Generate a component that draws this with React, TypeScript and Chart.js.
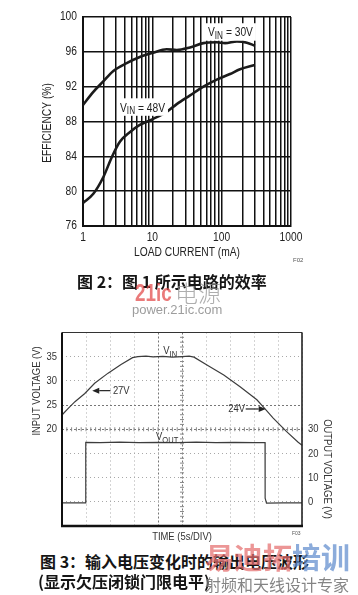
import React, { useEffect, useRef } from "react";
import { Chart, registerables } from "chart.js";

Chart.register(...registerables);

const SANS = '"Liberation Sans", Arial, sans-serif';
const CJK = '"Noto Sans CJK SC", "Noto Sans CJK TC", sans-serif';
const NARROW_SX = 0.82; // horizontal squeeze to imitate a narrow Helvetica

// ---------- Figure 2: efficiency vs load current ----------
const loadCurrent30V = [1, 1.41, 1.96, 2.74, 4.27, 6.6, 10.3, 16.1, 22.5, 34.9, 54.6, 85, 112, 166, 231, 302];
const efficiency30V = [89.9, 91.4, 92.6, 93.8, 94.7, 95.4, 95.9, 96.3, 96.2, 96.5, 97.0, 97.1, 97.0, 97.2, 97.05, 96.7];
const loadCurrent48V = [1, 1.41, 1.96, 2.6, 3.42, 4.78, 6.6, 10.3, 16.1, 22.5, 35, 54.6, 85, 132, 184, 302];
const efficiency48V = [78.65, 79.7, 81.6, 83.9, 85.7, 86.8, 87.6, 88.3, 89.1, 90.0, 91.0, 92.0, 92.8, 93.45, 94.0, 94.5];
const efficiencyTicks = [76, 80, 84, 88, 92, 96, 100];
const loadCurrentDecades = [1, 10, 100, 1000];
const decadeMultipliers = [1, 2, 3, 4, 5, 6, 7, 8, 9];

// ---------- Figure 3: input / output voltage waveform ----------
const vinTime = [0, 1.3, 2.7, 4.75, 6.8, 9.6, 12.3, 14.7, 15.8, 17.5, 19, 21, 23, 25, 26.5, 27.5, 30.2, 33.7, 37.1, 40.6, 42.3, 44.0, 46.8, 49.2, 50];
const vinVolts = [22.95, 24.3, 25.7, 27.4, 29.5, 31.6, 33.4, 34.8, 35.0, 35.1, 34.95, 35.05, 34.9, 35.0, 35.1, 34.9, 33.3, 31.2, 28.8, 26.1, 24.2, 22.3, 19.5, 17.3, 16.7];
const voutTime = [0, 4.93, 4.95, 8, 12, 16, 20, 24, 28, 32, 36, 40, 42.3, 42.32, 42.6, 46, 50];
const voutVolts = [-0.4, -0.4, 24.6, 24.5, 24.7, 24.5, 24.6, 24.5, 24.7, 24.5, 24.6, 24.5, 24.5, 1.5, -0.5, -0.4, -0.4];
const timeMax = 50;
const timePerDiv = 5;
const inputMin = 0;
const inputMax = 40;
const inputPerDiv = 5;
const outputMin = -10;
const outputMax = 70;
const outputPerDiv = 10;
const inputTickLabels = [20, 25, 30, 35];
const outputTickLabels = [0, 10, 20, 30];

type Opt = { size: number; color: string; align?: CanvasTextAlign; angle?: number; baseline?: CanvasTextBaseline };

function ctext(ctx: CanvasRenderingContext2D, text: string, x: number, y: number, o: Opt) {
  ctx.save();
  ctx.translate(x, y);
  if (o.angle) ctx.rotate(o.angle);
  ctx.scale(NARROW_SX, 1);
  ctx.font = `${o.size}px ${SANS}`;
  ctx.fillStyle = o.color;
  ctx.textAlign = o.align || "left";
  ctx.textBaseline = o.baseline || "middle";
  ctx.fillText(text, 0, 0);
  ctx.restore();
}

function textWidth(ctx: CanvasRenderingContext2D, text: string, size: number) {
  ctx.save();
  ctx.font = `${size}px ${SANS}`;
  const w = ctx.measureText(text).width * NARROW_SX;
  ctx.restore();
  return w;
}

function drawSubLabel(
  ctx: CanvasRenderingContext2D,
  x: number,
  yMid: number,
  main: string,
  sub: string,
  rest: string,
  size: number,
  color: string,
  bg: boolean
) {
  const subSize = size * 0.8;
  const w1 = textWidth(ctx, main, size);
  const w2 = textWidth(ctx, sub, subSize);
  const w3 = rest ? textWidth(ctx, rest, size) : 0;
  if (bg) {
    ctx.save();
    ctx.fillStyle = "#fff";
    ctx.fillRect(x - 3, yMid - size * 0.7, w1 + w2 + w3 + 6, size * 1.4);
    ctx.restore();
  }
  const base = yMid + size * 0.36;
  ctext(ctx, main, x, base, { size, color, baseline: "alphabetic" });
  ctext(ctx, sub, x + w1, base + size * 0.22, { size: subSize, color, baseline: "alphabetic" });
  if (rest) ctext(ctx, rest, x + w1 + w2, base, { size, color, baseline: "alphabetic" });
}

function drawArrow(ctx: CanvasRenderingContext2D, xTail: number, y: number, xTip: number) {
  ctx.save();
  ctx.strokeStyle = "#222";
  ctx.fillStyle = "#222";
  ctx.lineWidth = 1.2;
  const dir = Math.sign(xTip - xTail);
  const head = 7;
  ctx.beginPath();
  ctx.moveTo(xTail, y);
  ctx.lineTo(xTip - dir * head, y);
  ctx.stroke();
  ctx.beginPath();
  ctx.moveTo(xTip, y);
  ctx.lineTo(xTip - dir * head, y - 3);
  ctx.lineTo(xTip - dir * head, y + 3);
  ctx.closePath();
  ctx.fill();
  ctx.restore();
}

function line(ctx: CanvasRenderingContext2D, x1: number, y1: number, x2: number, y2: number, w: number, color: string) {
  ctx.save();
  ctx.strokeStyle = color;
  ctx.lineWidth = w;
  ctx.beginPath();
  ctx.moveTo(x1, y1);
  ctx.lineTo(x2, y2);
  ctx.stroke();
  ctx.restore();
}

const fig2Text = {
  id: "fig2Text",
  afterDraw(chart: any) {
    const { ctx, chartArea } = chart;
    const x = chart.scales.x;
    const y = chart.scales.y;
    const f = { size: 12.5, color: "#222" };
    loadCurrentDecades.forEach((v) => ctext(ctx, String(v), x.getPixelForValue(v), chartArea.bottom + 11.7, { ...f, align: "center" }));
    efficiencyTicks.forEach((v) => ctext(ctx, String(v), chartArea.left - 6, y.getPixelForValue(v), { ...f, align: "right" }));
    ctext(ctx, "LOAD CURRENT (mA)", (chartArea.left + chartArea.right) / 2, chartArea.bottom + 27, { ...f, align: "center" });
    ctext(ctx, "EFFICIENCY (%)", chartArea.left - 35, (chartArea.top + chartArea.bottom) / 2 + 1.5, { ...f, align: "center", angle: -Math.PI / 2 });
    drawSubLabel(ctx, x.getPixelForValue(63.5), y.getPixelForValue(98.28), "V", "IN", " = 30V", 12.5, "#222", true);
    drawSubLabel(ctx, x.getPixelForValue(3.42), y.getPixelForValue(89.66), "V", "IN", " = 48V", 12.5, "#222", true);
  },
};

const fig3Overlay = {
  id: "fig3Overlay",
  beforeDatasetsDraw(chart: any) {
    const { ctx } = chart;
    const x = chart.scales.x;
    const yIn = chart.scales.yIn;
    const yc = yIn.getPixelForValue(20);
    const xc = x.getPixelForValue(timeMax / 2);
    for (let t = 0; t <= timeMax; t += 1) {
      const px = x.getPixelForValue(t);
      line(ctx, px, yc - 2, px, yc + 2, 1, "#8a8a8a");
    }
    for (let v = inputMin; v <= inputMax; v += 1) {
      const py = yIn.getPixelForValue(v);
      line(ctx, xc - 2, py, xc + 2, py, 1, "#8a8a8a");
    }
  },
  afterDatasetsDraw(chart: any) {
    const { ctx, chartArea } = chart;
    const { left, right, top, bottom } = chartArea;
    const x = chart.scales.x;
    const yIn = chart.scales.yIn;
    const yOut = chart.scales.yOut;
    const f = { size: 11.5, color: "#333" };
    // frame
    line(ctx, left, top, right, top, 1.2, "#333");
    line(ctx, right, top, right, bottom, 1.6, "#222");
    line(ctx, left, top, left, bottom, 2, "#111");
    line(ctx, left - 1, bottom, right + 1, bottom, 2.6, "#111");
    // tick labels
    inputTickLabels.forEach((v) => ctext(ctx, String(v), left - 5, yIn.getPixelForValue(v), { ...f, align: "right" }));
    outputTickLabels.forEach((v) => ctext(ctx, String(v), right + 6, yOut.getPixelForValue(v), { ...f, align: "left" }));
    // axis titles
    ctext(ctx, "TIME (5s/DIV)", (left + right) / 2, bottom + 10.7, { ...f, align: "center" });
    ctext(ctx, "INPUT VOLTAGE (V)", left - 25.5, top + 58.5, { ...f, align: "center", angle: -Math.PI / 2 });
    ctext(ctx, "OUTPUT VOLTAGE (V)", right + 25.3, top + 136.5, { ...f, align: "center", angle: Math.PI / 2 });
    // trace labels
    drawSubLabel(ctx, x.getPixelForValue(21.1), yIn.getPixelForValue(36.4), "V", "IN", "", 11.5, "#333", false);
    drawSubLabel(ctx, x.getPixelForValue(19.6), yOut.getPixelForValue(27.2), "V", "OUT", "", 11.5, "#333", false);
    // 27V arrow
    const y27 = yIn.getPixelForValue(27.98);
    drawArrow(ctx, x.getPixelForValue(10.1), y27, x.getPixelForValue(6.3));
    ctext(ctx, "27V", x.getPixelForValue(10.6), y27, f);
    // 24V arrow
    const y24 = yIn.getPixelForValue(24.19);
    ctext(ctx, "24V", x.getPixelForValue(34.65), y24, f);
    drawArrow(ctx, x.getPixelForValue(38.27), y24, x.getPixelForValue(42.44));
  },
};

function fig2Config(): any {
  const gridValues: number[] = [];
  loadCurrentDecades.slice(0, -1).forEach((d) => decadeMultipliers.forEach((m) => gridValues.push(d * m)));
  gridValues.push(loadCurrentDecades[loadCurrentDecades.length - 1]);
  const ds = (xs: number[], ys: number[]) => ({
    data: xs.map((v, i) => ({ x: v, y: ys[i] })),
    borderColor: "#1b1b1b",
    borderWidth: 2.6,
    pointRadius: 0,
    cubicInterpolationMode: "monotone",
    fill: false,
  });
  return {
    type: "line",
    data: { datasets: [ds(loadCurrent30V, efficiency30V), ds(loadCurrent48V, efficiency48V)] },
    options: {
      responsive: false,
      animation: false,
      devicePixelRatio: 1,
      events: [],
      layout: { padding: { left: 0, right: 67, top: 17, bottom: 0 } },
      plugins: { legend: { display: false }, tooltip: { enabled: false } },
      scales: {
        x: {
          type: "logarithmic",
          min: loadCurrentDecades[0],
          max: loadCurrentDecades[loadCurrentDecades.length - 1],
          afterBuildTicks: (s: any) => {
            s.ticks = gridValues.map((v) => ({ value: v }));
          },
          afterFit: (s: any) => {
            s.height = 44;
          },
          ticks: { display: false, autoSkip: false },
          grid: { color: "#111", lineWidth: 1.5, drawTicks: false },
          border: { display: true, color: "#111", width: 2 },
        },
        y: {
          type: "linear",
          min: efficiencyTicks[0],
          max: efficiencyTicks[efficiencyTicks.length - 1],
          afterBuildTicks: (s: any) => {
            s.ticks = efficiencyTicks.map((v) => ({ value: v }));
          },
          afterFit: (s: any) => {
            s.width = 83;
          },
          ticks: { display: false },
          grid: { color: "#111", lineWidth: 1.5, drawTicks: false },
          border: { display: true, color: "#111", width: 2 },
        },
      },
    },
    plugins: [fig2Text],
  };
}

function fig3Config(): any {
  const isCenter = (c: any) => c.tick && (c.tick.value === timeMax / 2 || c.tick.value === 20);
  const gridColor = (c: any) => (isCenter(c) ? "#777" : "#a8a8a8");
  const gridDash = (c: any) => (isCenter(c) ? [2, 2] : [1, 3]);
  const ds = (xs: number[], ys: number[], axis: string) => ({
    data: xs.map((t, i) => ({ x: t, y: ys[i] })),
    yAxisID: axis,
    borderColor: "#3d3d3d",
    borderWidth: 1.2,
    pointRadius: 0,
    tension: 0,
    fill: false,
  });
  return {
    type: "line",
    data: { datasets: [ds(vinTime, vinVolts, "yIn"), ds(voutTime, voutVolts, "yOut")] },
    options: {
      responsive: false,
      animation: false,
      devicePixelRatio: 1,
      events: [],
      layout: { padding: { left: 0, right: 0, top: 12.5, bottom: 0 } },
      plugins: { legend: { display: false }, tooltip: { enabled: false } },
      scales: {
        x: {
          type: "linear",
          min: 0,
          max: timeMax,
          afterFit: (s: any) => {
            s.height = 19;
          },
          ticks: { stepSize: timePerDiv, display: false },
          grid: { color: gridColor, lineWidth: 1, drawTicks: false },
          border: { display: false, dash: gridDash },
        },
        yIn: {
          type: "linear",
          position: "left",
          min: inputMin,
          max: inputMax,
          afterFit: (s: any) => {
            s.width = 62;
          },
          ticks: { stepSize: inputPerDiv, display: false },
          grid: { color: gridColor, lineWidth: 1, drawTicks: false },
          border: { display: false, dash: gridDash },
        },
        yOut: {
          type: "linear",
          position: "right",
          min: outputMin,
          max: outputMax,
          afterFit: (s: any) => {
            s.width = 56;
          },
          ticks: { stepSize: outputPerDiv, display: false },
          grid: { drawOnChartArea: false, drawTicks: false },
          border: { display: false },
        },
      },
    },
    plugins: [fig3Overlay],
  };
}

function Txt(props: { x: number; y: number; size: number; style?: any; children: any }) {
  const { x, y, size, style, children } = props;
  return (
    <div
      style={{
        position: "absolute",
        left: x,
        top: y - size * 0.6,
        fontSize: size,
        lineHeight: `${size * 1.2}px`,
        whiteSpace: "nowrap",
        ...style,
      }}
    >
      {children}
    </div>
  );
}

export default function App() {
  const c1 = useRef<HTMLCanvasElement>(null);
  const c2 = useRef<HTMLCanvasElement>(null);
  useEffect(() => {
    const ch1 = new Chart(c1.current as HTMLCanvasElement, fig2Config());
    const ch2 = new Chart(c2.current as HTMLCanvasElement, fig3Config());
    return () => {
      ch1.destroy();
      ch2.destroy();
    };
  }, []);
  const cap = { fontFamily: CJK, fontWeight: 700, color: "#151515" };
  return (
    <div style={{ position: "absolute", left: 0, top: 0, width: 358, height: 595, background: "#fff", overflow: "hidden" }}>
      <canvas ref={c1} width={358} height={270} style={{ position: "absolute", left: 0, top: 0, width: 358, height: 270 }} />
      <canvas ref={c2} width={358} height={225} style={{ position: "absolute", left: 0, top: 320, width: 358, height: 225 }} />
      <Txt x={293} y={261} size={6} style={{ fontFamily: SANS, color: "#555" }}>F02</Txt>
      <Txt x={292} y={533} size={5} style={{ fontFamily: SANS, color: "#555" }}>F03</Txt>

      <Txt x={77} y={282} size={16} style={cap}>图 2：图 1 所示电路的效率</Txt>
      <Txt x={135} y={293.5} size={23} style={{ fontFamily: SANS, fontWeight: 700, color: "rgba(226,70,70,0.72)", transform: "scaleX(0.82)", transformOrigin: "left center" }}>21ic</Txt>
      <Txt x={175} y={293} size={23} style={{ fontFamily: CJK, fontWeight: 300, color: "rgba(140,140,140,0.7)" }}>电源</Txt>
      <Txt x={132} y={310} size={13} style={{ fontFamily: SANS, color: "#9d9d9d" }}>power.21ic.com</Txt>

      <Txt x={40} y={561.7} size={16} style={cap}>图 3：输入电压变化时的输出电压波形</Txt>
      <Txt x={38} y={581.7} size={16} style={cap}>(显示欠压闭锁门限电平)</Txt>
      <Txt x={205} y={556} size={29} style={{ fontFamily: CJK, fontWeight: 700 }}>
        <span style={{ color: "rgba(228,110,110,0.72)" }}>易迪拓</span>
        <span style={{ color: "rgba(95,140,205,0.72)" }}>培训</span>
      </Txt>
      <Txt x={205} y={585} size={16} style={{ fontFamily: CJK, color: "rgba(110,110,110,0.85)" }}>射频和天线设计专家</Txt>
    </div>
  );
}
